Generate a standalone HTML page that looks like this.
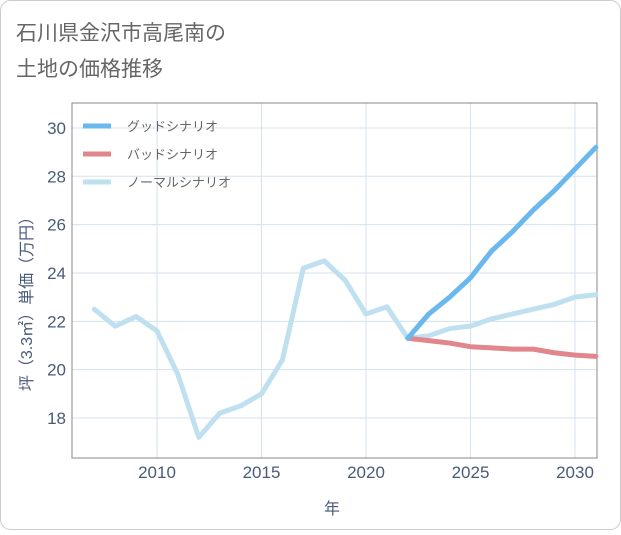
<!DOCTYPE html>
<html><head><meta charset="utf-8"><style>
body{margin:0;background:#fff;font-family:"Liberation Sans","Noto Sans CJK JP",sans-serif;}
#wrap{position:relative;width:621px;height:530px;}
</style></head><body>
<div id="wrap">
<svg id="chart" width="621" height="530" font-family="Liberation Sans, Noto Sans CJK JP, sans-serif">
<rect x="0.5" y="0.5" width="620" height="529" rx="10" fill="#fff" stroke="#ccc"/>
<text x="16" y="40" font-size="21" fill="#666">石川県金沢市高尾南の</text>
<text x="16" y="76" font-size="21" fill="#666">土地の価格推移</text>
<g id="grid"></g>
<rect x="72" y="103" width="525" height="355" fill="none" stroke="#888" stroke-width="1"/>
<g id="series"></g>
<g id="axes"></g>
<text x="332" y="514" font-size="16" fill="#4a5a78" text-anchor="middle">年</text>
<text transform="translate(32,300) rotate(-90)" font-size="16" fill="#4a5a78" text-anchor="middle">坪（3.3㎡）単価（万円）</text>
<g id="legend"></g>
</svg>
</div>
<script>
const years=[2007,2008,2009,2010,2011,2012,2013,2014,2015,2016,2017,2018,2019,2020,2021,2022,2023,2024,2025,2026,2027,2028,2029,2030,2031];
const normal=[22.5,21.8,22.2,21.6,19.8,17.2,18.2,18.5,19.0,20.4,24.2,24.5,23.7,22.3,22.6,21.3,21.4,21.7,21.8,22.1,22.3,22.5,22.7,23.0,23.1];
const goodYears=[2022,2023,2024,2025,2026,2027,2028,2029,2030,2031];
const good=[21.3,22.3,23.0,23.8,24.9,25.7,26.6,27.4,28.3,29.2];
const bad=[21.3,21.2,21.1,20.95,20.9,20.85,20.85,20.7,20.6,20.55];
const xTicks=[2010,2015,2020,2025,2030];
const yTicks=[18,20,22,24,26,28,30];
const seriesNames=["グッドシナリオ","バッドシナリオ","ノーマルシナリオ"];
const seriesColors=["#6bb8ee","#e0868c","#bfe0ee"];
const NS="http://www.w3.org/2000/svg";
function xs(v){return 157+(v-2010)*20.9;}
function ys(v){return 418-(v-18)*24.17;}
function mk(tag,attrs,parent){const e=document.createElementNS(NS,tag);for(const k in attrs)e.setAttribute(k,attrs[k]);parent.appendChild(e);return e;}
const grid=document.getElementById('grid'),axes=document.getElementById('axes'),ser=document.getElementById('series'),leg=document.getElementById('legend');
xTicks.forEach(t=>{
 const l=mk('line',{x1:xs(t),x2:xs(t),y1:103,y2:458,stroke:'#d4e2ec'},grid);
 
 
 const tx=mk('text',{x:xs(t),y:478,'font-size':17,fill:'#4a5a78','text-anchor':'middle'},axes);
 tx.textContent=t;
 
 
});
yTicks.forEach(t=>{
 const l=mk('line',{x1:72,x2:597,y1:ys(t),y2:ys(t),stroke:'#d4e2ec'},grid);
 
 
 const tx=mk('text',{x:66,y:ys(t)+6,'font-size':17,fill:'#4a5a78','text-anchor':'end'},axes);
 tx.textContent=t;
 
 
});
function line(xv,yv,color,name){
 const p=mk('polyline',{points:xv.map((x,i)=>xs(x)+','+ys(yv[i])).join(' '),fill:'none',stroke:color,'stroke-width':5,'stroke-linejoin':'round','stroke-linecap':'round'},ser);
 
 
}
line(years,normal,seriesColors[2],'normal-scenario-line');
line(goodYears,bad,seriesColors[1],'bad-scenario-line');
line(goodYears,good,seriesColors[0],'good-scenario-line');
seriesNames.forEach((n,i)=>{
 const y=126+i*28;
 const l=mk('line',{x1:83,x2:111,y1:y,y2:y,stroke:seriesColors[i],'stroke-width':5},leg);
 
 
 const t=mk('text',{x:127,y:y+5,'font-size':13,fill:'#666'},leg);
 t.textContent=n;
 
 
});
</script>
</body></html>
